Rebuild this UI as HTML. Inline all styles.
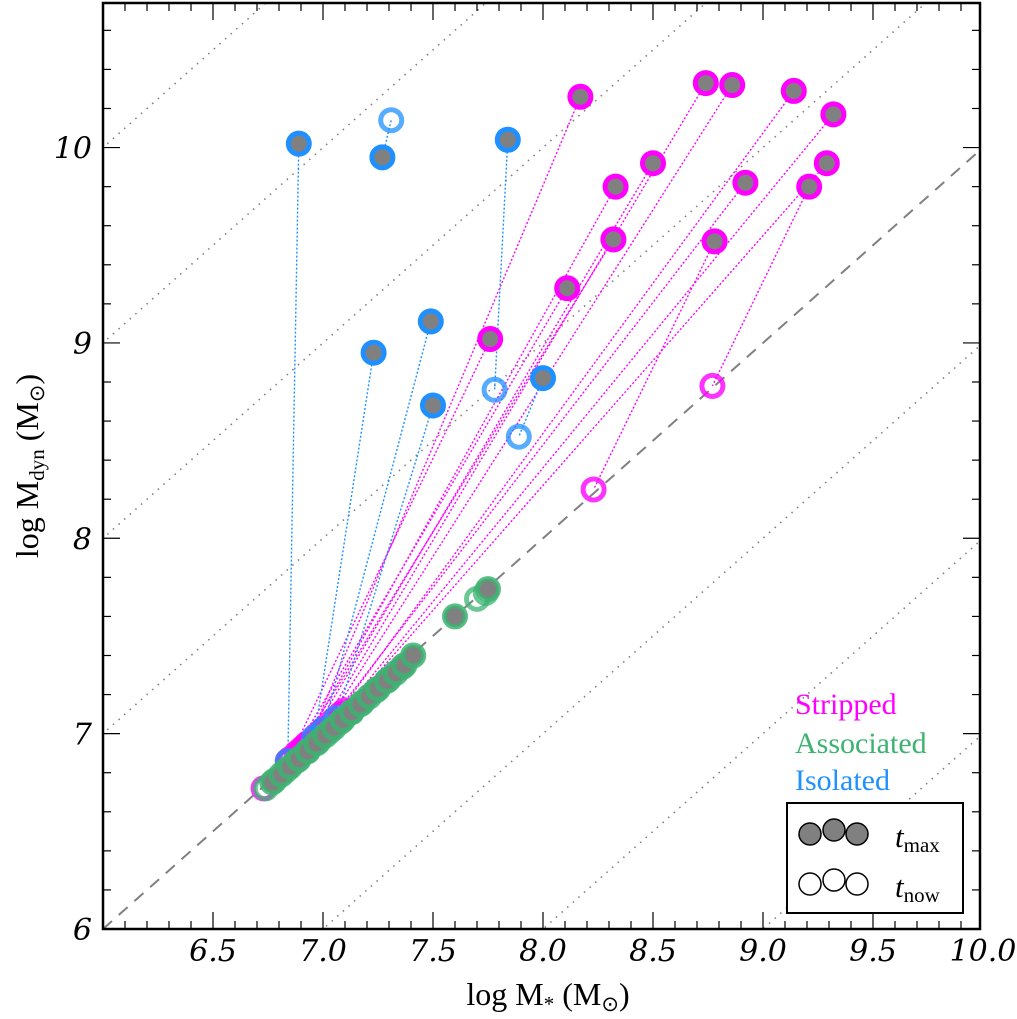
<!DOCTYPE html>
<html><head><meta charset="utf-8"><style>
html,body{margin:0;background:#fff;overflow:hidden;width:1017px;height:1019px;}
svg{position:absolute;left:0;top:0;display:block;font-family:"DejaVu Serif","Liberation Serif",serif;}
</style></head><body>
<svg id="chart" width="1017" height="1019" xmlns="http://www.w3.org/2000/svg">
<g id="grid"></g>
<g id="links"></g>
<g id="marks"></g>
<g id="axes"></g>
<text x="795" y="714" font-size="30" fill="#ff00ff" font-family="Liberation Serif, serif">Stripped</text>
<text x="795" y="753" font-size="30" fill="#3cb371" font-family="Liberation Serif, serif">Associated</text>
<text x="795" y="790" font-size="30" fill="#1e90ff" font-family="Liberation Serif, serif">Isolated</text>
<g>
<rect x="787" y="803" width="176" height="110" fill="#fff" stroke="#000" stroke-width="2"/>
<circle cx="810" cy="834" r="11" fill="#808080" stroke="#000" stroke-width="1.5"/>
<circle cx="834" cy="830" r="11" fill="#808080" stroke="#000" stroke-width="1.5"/>
<circle cx="857" cy="834" r="11" fill="#808080" stroke="#000" stroke-width="1.5"/>
<circle cx="810" cy="884" r="11" fill="#fff" stroke="#000" stroke-width="1.5"/>
<circle cx="834" cy="880" r="11" fill="#fff" stroke="#000" stroke-width="1.5"/>
<circle cx="857" cy="884" r="11" fill="#fff" stroke="#000" stroke-width="1.5"/>
<text x="895" y="847" font-size="31" font-style="italic" font-family="Liberation Serif, serif">t<tspan font-size="21" font-style="normal" dy="5">max</tspan></text>
<text x="895" y="897" font-size="31" font-style="italic" font-family="Liberation Serif, serif">t<tspan font-size="21" font-style="normal" dy="5">now</tspan></text>
</g>
<text x="548" y="1005" font-size="32" text-anchor="middle" font-family="Liberation Serif, serif">log M<tspan font-size="21" dy="6">*</tspan><tspan dy="-6"> (M</tspan><tspan font-size="21" dy="6">⊙</tspan><tspan dy="-6">)</tspan></text>
<text transform="translate(38,466) rotate(-90)" font-size="32" text-anchor="middle" font-family="Liberation Serif, serif">log M<tspan font-size="21" dy="6">dyn</tspan><tspan dy="-6"> (M</tspan><tspan font-size="21" dy="6">⊙</tspan><tspan dy="-6">)</tspan></text>
</svg>
<script>
const NS="http://www.w3.org/2000/svg";
const xTicks=[6.5,7.0,7.5,8.0,8.5,9.0,9.5,10.0];
const xTickLabels=["6.5","7.0","7.5","8.0","8.5","9.0","9.5","10.0"];
const yTicks=[6,7,8,9,10];
const yTickLabels=["6","7","8","9","10"];
const offsets=[-3,-2,-1,1,2,3,4];
const strMaxX=[8.17,8.74,8.86,9.14,9.32,8.50,8.33,8.92,9.29,9.21,8.32,8.78,8.11,7.76];
const strMaxY=[10.26,10.33,10.32,10.29,10.17,9.92,9.80,9.82,9.92,9.80,9.53,9.52,9.28,9.02];
const strNowX=[6.93,6.97,7.0,7.04,7.08,6.92,6.9,7.0,7.1,8.77,6.88,8.23,6.85,6.84];
const strNowY=[6.95,6.99,7.02,7.06,7.1,6.94,6.92,7.02,7.12,8.78,6.9,8.25,6.87,6.86];
const isoMaxX=[6.89,7.27,7.84,7.23,7.49,7.50,8.00];
const isoMaxY=[10.02,9.95,10.04,8.95,9.11,8.68,8.82];
const isoNowX=[6.84,7.31,7.78,6.96,7.0,7.06,7.89];
const isoNowY=[6.86,10.14,8.76,6.98,7.02,7.08,8.52];
const assMaxX=[6.77,6.81,6.85,6.89,6.93,6.97,7.01,7.05,7.09,7.13,7.17,7.21,7.25,7.29,7.33,7.37,7.41,7.60,7.75];
const assMaxY=[6.75,6.79,6.83,6.87,6.91,6.95,6.99,7.03,7.07,7.11,7.15,7.19,7.23,7.27,7.31,7.35,7.40,7.60,7.74];
const assNowX=[6.74,6.78,6.83,6.88,6.93,6.98,7.03,7.08,7.13,7.18,7.24,7.3,7.36,7.70,7.74];
const assNowY=[6.72,6.76,6.81,6.86,6.91,6.96,7.01,7.06,7.11,7.16,7.22,7.28,7.34,7.69,7.72];
const magNowX=[6.73];
const magNowY=[6.72];

const L=103,R=980,T=3,B=929,Y0=6.0,Y1=10.74;
const sx=v=>L+(v-6.0)*(R-L)/3.9864;
const sy=v=>B-(v-Y0)*(B-T)/(Y1-Y0);
function mk(tag,attrs,parent){const e=document.createElementNS(NS,tag);for(const k in attrs)e.setAttribute(k,attrs[k]);parent.appendChild(e);return e;}
const grid=document.getElementById('grid'),links=document.getElementById('links'),marks=document.getElementById('marks'),axes=document.getElementById('axes');
const clip=mk('clipPath',{id:'pc'},document.getElementById('chart'));mk('rect',{x:L,y:T,width:R-L,height:B-T},clip);
grid.setAttribute('clip-path','url(#pc)');links.setAttribute('clip-path','url(#pc)');
let d=mk('line',{x1:sx(6),y1:sy(6),x2:sx(11),y2:sy(11),stroke:'#808080','stroke-width':2,'stroke-dasharray':'12,9'},grid);


offsets.forEach(k=>{const l=mk('line',{x1:sx(5),y1:sy(5+k),x2:sx(12),y2:sy(12+k),stroke:'#808080','stroke-width':1.6,'stroke-dasharray':'1.5,6'},grid);

});
function pairs(mx,my,nx,ny,col){for(let i=0;i<mx.length;i++){const l=mk('line',{x1:sx(mx[i]),y1:sy(my[i]),x2:sx(nx[i]),y2:sy(ny[i]),stroke:col,'stroke-width':1.4,'stroke-dasharray':'2,2'},links);

}}
pairs(strMaxX,strMaxY,strNowX,strNowY,'#ff00ff');
pairs(isoMaxX,isoMaxY,isoNowX,isoNowY,'#1e90ff');
function pts(xs,ys,col,filled,name,op){for(let i=0;i<xs.length;i++){const c=mk('circle',{cx:sx(xs[i]),cy:sy(ys[i]),r:10.5,fill:filled?'#808080':'none',stroke:col,'stroke-width':5,'stroke-opacity':op},marks);

}}
pts(magNowX,magNowY,'#ff00ff',false,'stripped-now',0.8);
pts(strNowX,strNowY,'#ff00ff',false,'stripped-now',0.8);
pts(isoNowX,isoNowY,'#1e90ff',false,'isolated-now',0.75);
pts(assNowX,assNowY,'#3cb371',false,'associated-now',0.75);
pts(assMaxX,assMaxY,'#3cb371',true,'associated-max',0.85);
pts(isoMaxX,isoMaxY,'#1e90ff',true,'isolated-max',1);
pts(strMaxX,strMaxY,'#ff00ff',true,'stripped-max',1);
mk('rect',{x:L,y:T,width:R-L,height:B-T,fill:'none',stroke:'#000','stroke-width':2.5},axes);
for(let i=1;i<40;i++){const v=6+i*0.1;const big=i%5===0;const len=big?17:8;const x=sx(v);
mk('line',{x1:x,y1:B,x2:x,y2:B-len,stroke:'#000','stroke-width':1.2},axes);mk('line',{x1:x,y1:T,x2:x,y2:T+len,stroke:'#000','stroke-width':1.2},axes);}
for(let i=1;i<=23;i++){const v=6+i*0.2;if(v>10.7)break;const big=i%5===0;const len=big?17:8;const y=sy(v);
mk('line',{x1:L,y1:y,x2:L+len,y2:y,stroke:'#000','stroke-width':1.2},axes);mk('line',{x1:R,y1:y,x2:R-len,y2:y,stroke:'#000','stroke-width':1.2},axes);}
xTicks.forEach((v,i)=>{const t=mk('text',{x:sx(v),y:961,'font-size':30,'font-style':'italic','text-anchor':'middle'},axes);t.textContent=xTickLabels[i];

});
yTicks.forEach((v,i)=>{const t=mk('text',{x:92,y:sy(v)+11,'font-size':30,'font-style':'italic','text-anchor':'end'},axes);t.textContent=yTickLabels[i];

});
</script>
</body></html>
